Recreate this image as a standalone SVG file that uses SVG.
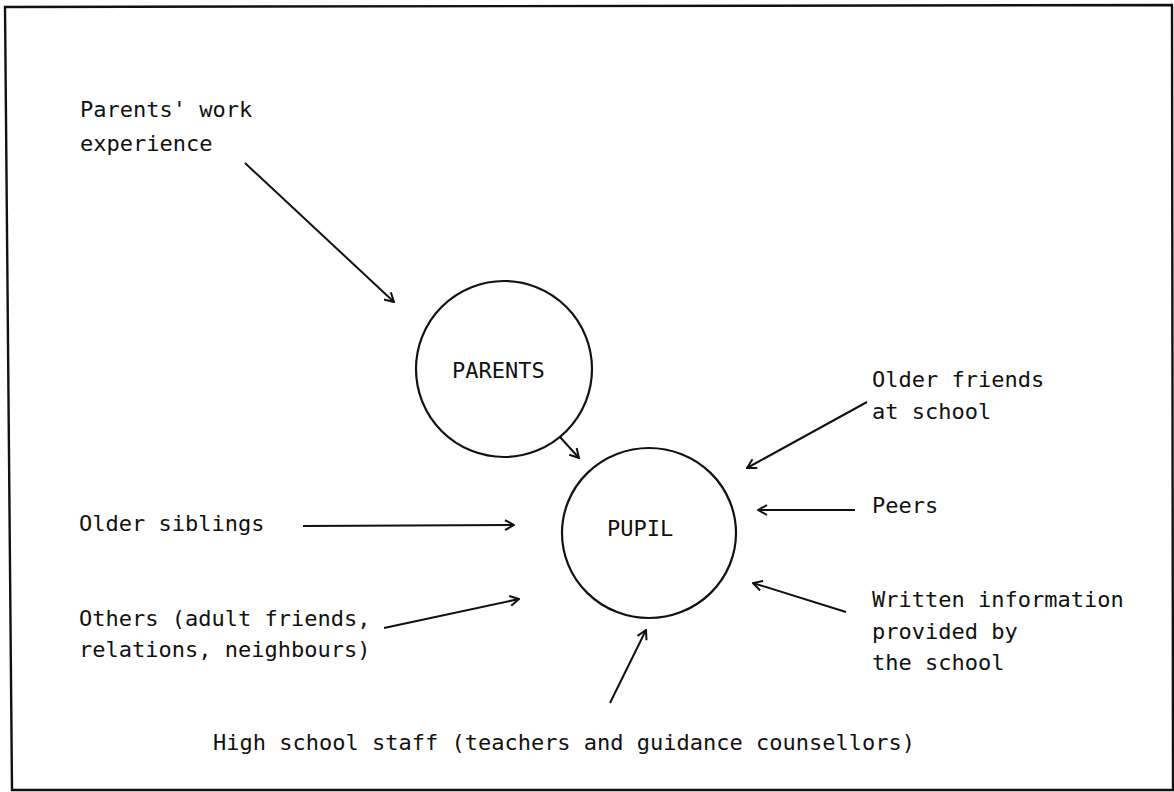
<svg xmlns="http://www.w3.org/2000/svg" width="1174" height="792" viewBox="0 0 1174 792">
  <style>
    .frame { fill: none; stroke: #111; stroke-width: 2.4; }
    .node { fill: #fff; stroke: #111; stroke-width: 2.2; }
    .label { font-family: "DejaVu Sans Mono", "Liberation Mono", monospace; font-size: 22px; fill: #111; }
    .link { fill: none; stroke: #111; stroke-width: 2; marker-end: url(#barb); }
  </style>
  <defs>
    <marker id="barb" viewBox="0 0 12 12" refX="11" refY="6" markerWidth="12" markerHeight="12" markerUnits="userSpaceOnUse" orient="auto">
      <path d="M2,1 L11,6 L2,11" fill="none" stroke="#111" stroke-width="2"/>
    </marker>
  </defs>

  <rect width="1174" height="792" fill="#fff"/>
  <!-- outer frame -->
  <path class="frame" d="M5,7 L1172,5 L1173,790 L12,790 Z"/>

  <!-- circular nodes -->
  <g id="node-parents">
    <ellipse class="node" cx="504" cy="369" rx="88" ry="88"/>
    <text class="label" x="452" y="378">PARENTS</text>
  </g>
  <g id="node-pupil">
    <ellipse class="node" cx="649" cy="533" rx="87" ry="85"/>
    <text class="label" x="607" y="536">PUPIL</text>
  </g>

  <!-- influence sources -->
  <g id="src-parents-work">
    <text class="label" x="80" y="117">Parents' work</text>
    <text class="label" x="80" y="151">experience</text>
  </g>
  <g id="src-older-siblings">
    <text class="label" x="79" y="531">Older siblings</text>
  </g>
  <g id="src-others">
    <text class="label" x="79" y="626">Others (adult friends,</text>
    <text class="label" x="79" y="657">relations, neighbours)</text>
  </g>
  <g id="src-high-school-staff">
    <text class="label" x="213" y="750">High school staff (teachers and guidance counsellors)</text>
  </g>
  <g id="src-older-friends">
    <text class="label" x="872" y="387">Older friends</text>
    <text class="label" x="872" y="419">at school</text>
  </g>
  <g id="src-peers">
    <text class="label" x="872" y="513">Peers</text>
  </g>
  <g id="src-written-info">
    <text class="label" x="872" y="607">Written information</text>
    <text class="label" x="872" y="639">provided by</text>
    <text class="label" x="872" y="670">the school</text>
  </g>

  <!-- arrows -->
  <g id="connectors">
    <line class="link" x1="245" y1="163" x2="394" y2="302"/>
    <line class="link" x1="560" y1="437" x2="579" y2="458"/>
    <line class="link" x1="303" y1="526" x2="514" y2="525"/>
    <line class="link" x1="384" y1="628" x2="519" y2="599"/>
    <line class="link" x1="867" y1="402" x2="747" y2="468"/>
    <line class="link" x1="855" y1="510" x2="758" y2="510"/>
    <line class="link" x1="846" y1="612" x2="753" y2="583"/>
    <line class="link" x1="610" y1="703" x2="646" y2="630"/>
  </g>
</svg>
